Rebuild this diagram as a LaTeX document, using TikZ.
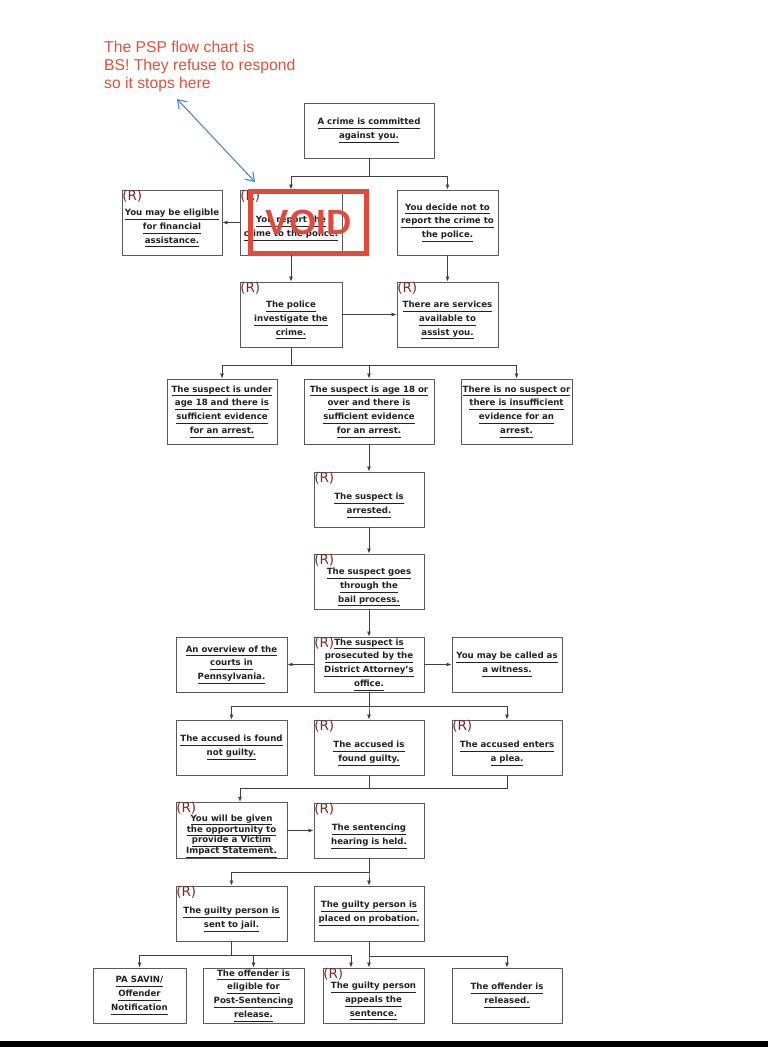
\documentclass[tikz,border=0pt]{standalone}
\usepackage{fontspec}
\usetikzlibrary{arrows.meta}
\newfontfamily\boxfont{DejaVu Sans}
\newfontfamily\notefont{Liberation Sans}
\definecolor{boxline}{HTML}{5A5A5A}
\definecolor{boxtext}{HTML}{222222}
\definecolor{rmark}{HTML}{7B2A2A}
\definecolor{voidred}{HTML}{E04A3C}
\definecolor{notered}{HTML}{D9533F}
\definecolor{noteblue}{HTML}{4F86C0}
\newcommand\lnk[1]{\underline{#1\vphantom{gy}}}
\newcommand\rg{\rule{0pt}{18pt}}% room for the (R) mark
\tikzset{
 box/.style={draw=boxline,line width=0.9pt,align=center,text=boxtext,inner sep=1pt,
   font=\boxfont\bfseries\fontsize{8.6}{13.8}\selectfont},
 dims/.style 2 args={minimum width=#1pt,minimum height=#2pt},
 rtag/.style={label={[anchor=north west,inner sep=0.5pt,draw=none,text=rmark,
   font=\boxfont\fontsize{13.5}{14}\selectfont]north west:(R)}},
 link/.style={draw=black!75,line width=0.8pt},
 arr/.style={link,-{Latex[length=5pt,width=4pt]}},
 note/.style={align=left,inner sep=0pt,text=notered,font=\notefont\fontsize{15.7}{18}\selectfont},
 pointer/.style={noteblue,line width=1.1pt,{Straight Barb[length=8pt,width=11pt]}-{Straight Barb[length=8pt,width=11pt]}},
 voidstamp/.style={draw=voidred,line width=5pt,inner sep=0pt,text=voidred,
   font=\notefont\bfseries\fontsize{35}{35}\selectfont}
}
\begin{document}
\begin{tikzpicture}[x=1pt,y=-1pt]
 \useasboundingbox (0,0) rectangle (768,1047);
 \fill[white] (0,0) rectangle (768,1047);
 \fill[black] (0,1041) rectangle (768,1047);
 % annotation
 \node[note,anchor=north west,name=note] at (104,41) {The PSP flow chart is\\BS! They refuse to respond\\so it stops here};
 \coordinate (tail) at (177,99);
 \coordinate (tip) at (255,182);
 \draw[pointer] (tail) -- (tip);
 % reporting
 \node[box,dims={130}{55},name=top] at (369,130.5) {\lnk{A crime is committed}\\\lnk{against you.}};
 \node[box,rtag,dims={100}{65},name=fin] at (172,222.5) {\rg\lnk{You may be eligible}\\\lnk{for financial}\\\lnk{assistance.}};
 \node[box,rtag,dims={102}{65},name=report] at (291,222.5) {\rg\lnk{You report the}\\\lnk{crime to the police.}};
 \node[box,dims={101}{65},name=decide] at (447.5,222.5) {\lnk{You decide not to}\\\lnk{report the crime to}\\\lnk{the police.}};
 \node[voidstamp,dims={116}{62},name=void] at (308.5,222.5) {VOID};
 \node[box,rtag,dims={102}{65},name=police] at (291,314.5) {\rg\lnk{The police}\\\lnk{investigate the}\\\lnk{crime.}};
 \node[box,rtag,dims={101}{65},name=services] at (447.5,314.5) {\rg\lnk{There are services}\\\lnk{available to}\\\lnk{assist you.}};
 % investigation
 \node[box,dims={110}{65},name=under18] at (222,411.5) {\lnk{The suspect is under}\\\lnk{age 18 and there is}\\\lnk{sufficient evidence}\\\lnk{for an arrest.}};
 \node[box,dims={130}{65},name=over18] at (369,411.5) {\lnk{The suspect is age 18 or}\\\lnk{over and there is}\\\lnk{sufficient evidence}\\\lnk{for an arrest.}};
 \node[box,dims={111}{65},name=nosusp] at (516.5,411.5) {\lnk{There is no suspect or}\\\lnk{there is insufficient}\\\lnk{evidence for an}\\\lnk{arrest.}};
 \node[box,rtag,dims={110}{55},name=arrested] at (369,499.5) {\rg\lnk{The suspect is}\\\lnk{arrested.}};
 \node[box,rtag,dims={110}{55},name=bail] at (369,581.5) {\rg\lnk{The suspect goes}\\\lnk{through the}\\\lnk{bail process.}};
 % court
 \node[box,rtag,dims={110}{55},name=prosec] at (369,664.5) {\lnk{The suspect is}\\\lnk{prosecuted by the}\\\lnk{District Attorney’s}\\\lnk{office.}};
 \node[box,dims={111}{55},name=overview] at (231.5,664.5) {\lnk{An overview of the}\\\lnk{courts in}\\\lnk{Pennsylvania.}};
 \node[box,dims={110}{55},name=witness] at (507,664.5) {\lnk{You may be called as}\\\lnk{a witness.}};
 \node[box,dims={111}{55},name=notguilty] at (231.5,747.5) {\lnk{The accused is found}\\\lnk{not guilty.}};
 \node[box,rtag,dims={110}{55},name=guilty] at (369,747.5) {\rg\lnk{The accused is}\\\lnk{found guilty.}};
 \node[box,rtag,dims={110}{55},name=plea] at (507,747.5) {\rg\lnk{The accused enters}\\\lnk{a plea.}};
 % sentencing
 \node[box,rtag,dims={111}{55},font=\boxfont\bfseries\fontsize{8.6}{10.8}\selectfont,name=vis] at (231.5,830.5) {\rg\lnk{You will be given}\\\lnk{the opportunity to}\\\lnk{provide a Victim}\\\lnk{Impact Statement.}};
 \node[box,rtag,dims={110}{55},name=sentencing] at (369,830.5) {\rg\lnk{The sentencing}\\\lnk{hearing is held.}};
 \node[box,rtag,dims={111}{55},name=jail] at (231.5,913.5) {\rg\lnk{The guilty person is}\\\lnk{sent to jail.}};
 \node[box,dims={110}{55},name=probation] at (369,913.5) {\lnk{The guilty person is}\\\lnk{placed on probation.}};
 \node[box,dims={93}{55},name=savin] at (139.5,995.5) {\lnk{PA SAVIN/}\\\lnk{Offender}\\\lnk{Notification}};
 \node[box,dims={101}{55},name=eligible] at (253.5,995.5) {\lnk{The offender is}\\\lnk{eligible for}\\\lnk{Post-Sentencing}\\\lnk{release.}};
 \node[box,rtag,dims={101}{55},name=appeals] at (373.5,995.5) {\rg\lnk{The guilty person}\\\lnk{appeals the}\\\lnk{sentence.}};
 \node[box,dims={110}{55},name=released] at (507,995.5) {\lnk{The offender is}\\\lnk{released.}};
 % connectors
 \foreach \target in {report,decide}
   \draw[arr] (top.south) -- ++(0,18) -| (\target.north);
 \draw[arr] (report.west) -- (fin.east);
 \draw[arr] (report.south) -- (police.north);
 \draw[arr] (decide.south) -- (services.north);
 \draw[arr] (police.east) -- (services.west);
 \foreach \target in {under18,over18,nosusp}
   \draw[arr] (police.south) -- ++(0,18) -| (\target.north);
 \draw[arr] (over18.south) -- (arrested.north);
 \draw[arr] (arrested.south) -- (bail.north);
 \draw[arr] (bail.south) -- (prosec.north);
 \draw[arr] (prosec.west) -- (overview.east);
 \draw[arr] (prosec.east) -- (witness.west);
 \foreach \target in {notguilty,guilty,plea}
   \draw[arr] (prosec.south) -- ++(0,14) -| (\target.north);
 \draw[link] (guilty.south) -- ++(0,13);
 \draw[arr] (plea.south) -- ++(0,13) -| ([xshift=8.5pt]vis.north);
 \draw[arr] (vis.east) -- (sentencing.west);
 \foreach \target in {jail,probation}
   \draw[arr] (sentencing.south) -- ++(0,14) -| (\target.north);
 \foreach \target/\dx in {savin/0,eligible/0,appeals/-22.5}
   \draw[arr] (jail.south) -- ++(0,14) -| ([xshift=\dx pt]\target.north);
 \foreach \target/\dx in {appeals/-4.5,released/0}
   \draw[arr] (probation.south) -- ++(0,15) -| ([xshift=\dx pt]\target.north);
\end{tikzpicture}
\end{document}
